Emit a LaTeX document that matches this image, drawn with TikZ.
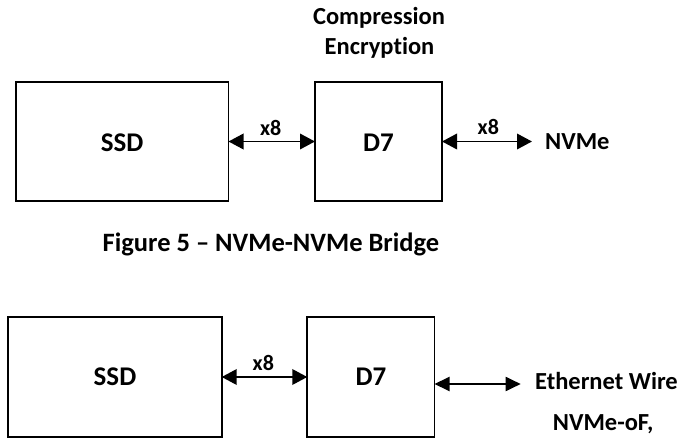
\documentclass[tikz,border=0pt]{standalone}
\usepackage{fontspec}
\setmainfont{Carlito}[Ligatures=NoCommon]
\usetikzlibrary{arrows.meta}
\tikzset{
  block/.style={draw=black, line width=1.8pt, inner sep=0pt, outer sep=0pt, fill=white},
  blocklabel/.style={anchor=base, inner sep=0pt, font=\fontsize{27}{32}\selectfont\bfseries},
  txt/.style={inner sep=0pt, font=\fontsize{24.5}{29}\selectfont\bfseries},
  captiontxt/.style={anchor=base, inner sep=0pt, font=\fontsize{26.5}{31}\selectfont\bfseries},
  lanes/.style={anchor=base, inner sep=0pt, font=\fontsize{22}{26}\selectfont\bfseries},
  bus/.style={line width=1.9pt, {Triangle[length=15pt,width=15.5pt]}-{Triangle[length=15pt,width=15.5pt]}},
  wirebus/.style={line width=1.9pt, {Triangle[length=15pt,width=14pt]}-{Triangle[length=15pt,width=14pt]}}
}
\begin{document}
\begin{tikzpicture}[x=1pt,y=-1pt]
\useasboundingbox[fill=white] (0,0) rectangle (697,438);

% ---- NVMe-NVMe bridge ----
\node[txt, anchor=base] (comp) at (379,25) {Compression};
\node[txt, anchor=base] (encr) at (379.5,55) {Encryption};

\node[block, minimum width=212.8pt, minimum height=119pt] (ssdA) at (122.1,141.5) {};
\node[block, minimum width=127pt, minimum height=119pt] (dsevA) at (378.5,141.5) {};
\node[blocklabel] (ssdAtxt) at (122.1,152) {SSD};
\node[blocklabel] (dsevAtxt) at (378.5,152) {D7};

\coordinate (nvmeend) at (532,141.5);
\draw[bus] (ssdA.east) -- (dsevA.west);
\draw[bus] (dsevA.east) -- (nvmeend);
\node[lanes] (lanesA) at (270.7,136) {x8};
\node[lanes] (lanesB) at (488.3,135) {x8};
\node[txt, anchor=base west] (nvme) at (545,150) {NVMe};

\node[captiontxt] (caption) at (271,252) {Figure 5 – NVMe-NVMe Bridge};

% ---- NVMe-oF bridge ----
\node[block, minimum width=213.4pt, minimum height=120pt] (ssdB) at (115,377) {};
\node[block, minimum width=127.2pt, minimum height=120pt] (dsevB) at (370.9,377) {};
\node[blocklabel] (ssdBtxt) at (115,385.5) {SSD};
\node[blocklabel] (dsevBtxt) at (370.9,385.5) {D7};

\coordinate (ethend) at (520.7,384);
\draw[bus] (ssdB.east) -- (dsevB.west);
\draw[wirebus] (dsevB.east |- ethend) -- (ethend);
\node[lanes] (lanesC) at (263.3,371) {x8};
\node[txt, anchor=base west] (eth) at (535,390) {Ethernet Wire};
\node[txt, anchor=base west] (nvmeof) at (552.7,430.7) {NVMe-oF,};
\end{tikzpicture}
\end{document}
